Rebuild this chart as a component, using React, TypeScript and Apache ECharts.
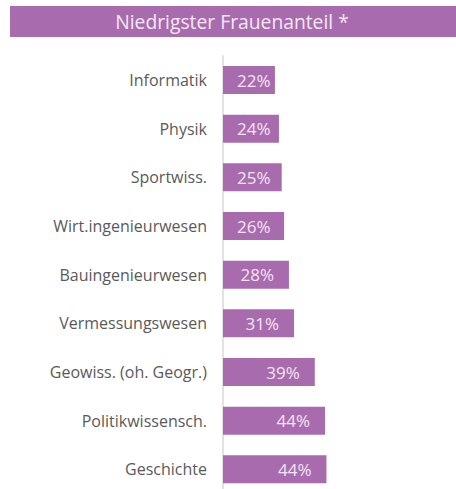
import React, { useEffect, useRef } from "react";
import * as echarts from "echarts";

const categories = [
  "Informatik",
  "Physik",
  "Sportwiss.",
  "Wirt.ingenieurwesen",
  "Bauingenieurwesen",
  "Vermessungswesen",
  "Geowiss. (oh. Geogr.)",
  "Politikwissensch.",
  "Geschichte",
];
const values = [22.3, 24.0, 25.2, 26.2, 28.3, 30.5, 39.4, 43.8, 44.4];
const titleText = "Niedrigster Frauenanteil *";

const PURPLE = "#a86cae";
const FONT = "'Open Sans', 'Noto Sans', sans-serif";

export default function App() {
  const ref = useRef<HTMLDivElement>(null);
  useEffect(() => {
    const chart = echarts.init(ref.current!, null, { renderer: "svg" });
    chart.setOption({
      animation: false,
      backgroundColor: "#ffffff",
      graphic: [
        {
          type: "rect",
          shape: { x: 10, y: 6, width: 446, height: 31 },
          style: { fill: PURPLE },
          z: 10,
        },
        {
          type: "text",
          x: 232,
          y: 21,
          style: {
            text: titleText,
            fill: "#f3e8f4",
            font: `19.3px ${FONT}`,
            textAlign: "center",
            textVerticalAlign: "middle",
          },
          z: 11,
        },
      ],
      grid: { left: 223, top: 55.7, width: 233, height: 438, containLabel: false },
      xAxis: {
        type: "value",
        min: 0,
        max: 100,
        show: false,
      },
      yAxis: {
        type: "category",
        data: categories,
        inverse: true,
        axisLine: { show: true, lineStyle: { color: "#d9d9d9", width: 1.5 } },
        axisTick: { show: false },
        axisLabel: {
          color: "#5a5a5a",
          fontSize: 16,
          fontFamily: FONT,
          margin: 16,
        },
      },
      series: [
        {
          type: "bar",
          barWidth: 28,
          itemStyle: { color: PURPLE },
          data: values.map((v) => ({
            value: v,
            label: {
              show: true,
              position: v < 27 ? "insideLeft" : "insideRight",
              distance: v < 27 ? 14 : 15,
              formatter: () => Math.round(v) + "%",
              color: "#f3e4f3",
              fontSize: 17,
              fontFamily: FONT,
            },
          })),
        },
      ],
    });
    return () => chart.dispose();
  }, []);
  return (
    <div
      ref={ref}
      style={{ position: "fixed", left: 0, top: 0, width: 456, height: 510 }}
    />
  );
}
